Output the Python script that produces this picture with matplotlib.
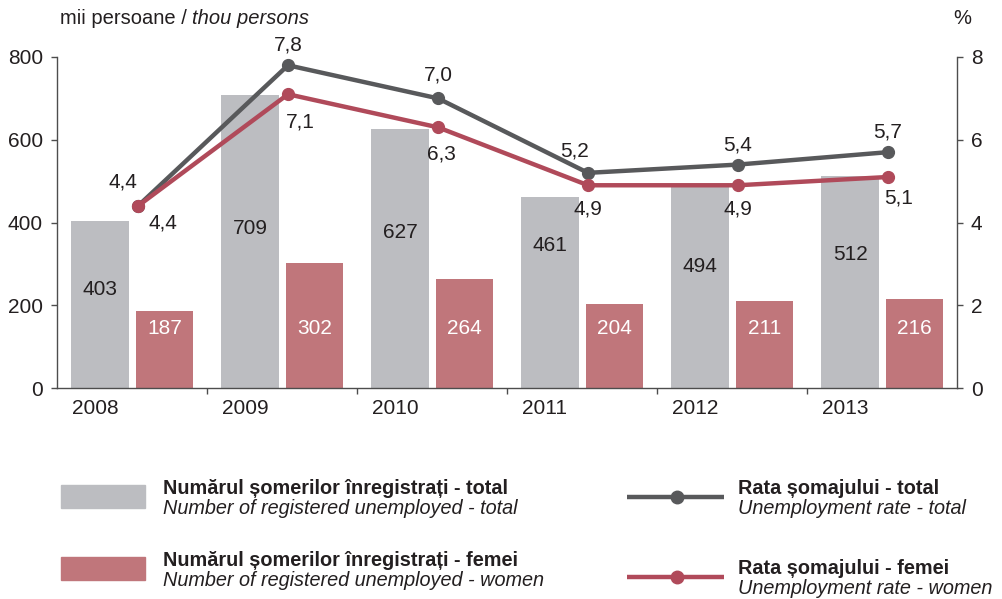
import matplotlib.pyplot as plt
from matplotlib.patches import Rectangle
from matplotlib.lines import Line2D

plt.rcParams['font.family'] = ['Liberation Sans', 'DejaVu Sans']

# data
years = ['2008', '2009', '2010', '2011', '2012', '2013']
unemployed_total = [403, 709, 627, 461, 494, 512]
unemployed_women = [187, 302, 264, 204, 211, 216]
rate_total = [4.4, 7.8, 7.0, 5.2, 5.4, 5.7]
rate_women = [4.4, 7.1, 6.3, 4.9, 4.9, 5.1]
rate_total_labels = ['4,4', '7,8', '7,0', '5,2', '5,4', '5,7']
rate_women_labels = ['4,4', '7,1', '6,3', '4,9', '4,9', '5,1']

# layout: hand-placed label heights inside gray bars, label offsets (px)
gray_label_y = [238, 385, 376, 344, 293, 322]
women_label_y = 145
total_offsets = [(-15, 24), (0, 20), (0, 23), (-13, 22), (0, 20), (0, 20)]
women_offsets = [(25, -17), (12, -28), (3, -27), (0, -24), (0, -24), (11, -21)]

GRAY = '#bcbdc1'
RED = '#c0767b'
LINE_GRAY = '#58595b'
LINE_RED = '#b04a5a'
TXT = '#231f20'
SPINE = '#4d4d4d'
FS = 15

fig = plt.figure(figsize=(10.03, 5.99), dpi=100)
ax = fig.add_axes([57 / 1003, 1 - 388 / 599, 900 / 1003, 331 / 599])
ax2 = ax.twinx()

x = list(range(len(years)))
xg = [i + 0.287 for i in x]
xr = [i + 0.717 for i in x]
xp = [i + 0.54 for i in x]

ax.bar(xg, unemployed_total, width=0.387, color=GRAY, zorder=1)
ax.bar(xr, unemployed_women, width=0.383, color=RED, zorder=1)

for i in x:
    ax.text(xg[i], gray_label_y[i], str(unemployed_total[i]), ha='center', va='center',
            fontsize=FS, color=TXT, zorder=3)
    ax.text(xr[i], women_label_y, str(unemployed_women[i]), ha='center', va='center',
            fontsize=FS, color='white', zorder=3)
    ax.annotate(years[i], (i + 0.253, 0), xytext=(0, -20), textcoords='offset pixels',
                ha='center', va='center', fontsize=FS, color=TXT, annotation_clip=False)

ax2.plot(xp, rate_total, color=LINE_GRAY, lw=3.2, marker='o', ms=8.5, zorder=4)
ax2.plot(xp, rate_women, color=LINE_RED, lw=3.2, marker='o', ms=8.5, zorder=5)
for i in x:
    ax2.annotate(rate_total_labels[i], (xp[i], rate_total[i]), xytext=total_offsets[i],
                 textcoords='offset pixels', ha='center', va='center', fontsize=FS, color=TXT)
    ax2.annotate(rate_women_labels[i], (xp[i], rate_women[i]), xytext=women_offsets[i],
                 textcoords='offset pixels', ha='center', va='center', fontsize=FS, color=TXT)

ax.set_xlim(0, 6)
ax.set_ylim(0, 800)
ax2.set_ylim(0, 8)
ax.set_yticks([0, 200, 400, 600, 800])
ax2.set_yticks([0, 2, 4, 6, 8])
ax.set_xticks([1, 2, 3, 4, 5])
ax.set_xticklabels([])

for a in (ax, ax2):
    a.spines['top'].set_visible(False)
    for s in a.spines.values():
        s.set_color(SPINE)
        s.set_linewidth(1)
    a.tick_params(colors=SPINE, labelcolor=TXT, labelsize=FS, length=4.5, width=1,
                  direction='out')
ax.spines['right'].set_visible(False)
ax2.spines['left'].set_visible(False)
ax2.spines['bottom'].set_visible(False)
ax.tick_params(axis='y', pad=5.5)
ax2.tick_params(axis='y', pad=5.5)

# overlay for titles and legend, in pixel coordinates
ov = fig.add_axes([0, 0, 1, 1], zorder=10)
ov.set_xlim(0, 1003)
ov.set_ylim(599, 0)
ov.axis('off')

t1 = ov.text(60, 19, 'mii persoane / ', fontsize=14.5, color=TXT, ha='left', va='center')
ov.annotate('thou persons', xy=(1, 0.5), xycoords=t1, ha='left', va='center',
            fontsize=14.5, color=TXT, style='italic')
ov.text(962, 19, '%', fontsize=14.5, color=TXT, ha='center', va='center')

ov.add_patch(Rectangle((61, 485), 84, 23, color=GRAY))
ov.add_patch(Rectangle((61, 557), 84, 23, color=RED))
ov.add_line(Line2D([627, 677, 724], [497, 497, 497], color=LINE_GRAY, lw=3.2,
                   marker='o', ms=9, markevery=[1], solid_capstyle='butt'))
ov.add_line(Line2D([627, 677, 724], [577, 577, 577], color=LINE_RED, lw=3.2,
                   marker='o', ms=9, markevery=[1], solid_capstyle='butt'))

legend_items = [
    (163, 488, 'Numărul șomerilor înregistrați - total', 'Number of registered unemployed - total'),
    (163, 561, 'Numărul șomerilor înregistrați - femei', 'Number of registered unemployed - women'),
    (738, 489, 'Rata șomajului - total', 'Unemployment rate - total'),
    (738, 569, 'Rata șomajului - femei', 'Unemployment rate - women'),
]
for lx, ly, bold, ital in legend_items:
    ov.text(lx, ly, bold, fontsize=14.3, fontweight='bold', color=TXT, ha='left', va='center')
    ov.text(lx, ly + 20, ital, fontsize=14.3, style='italic', color=TXT, ha='left', va='center')

fig.savefig('out.png', dpi=100)
